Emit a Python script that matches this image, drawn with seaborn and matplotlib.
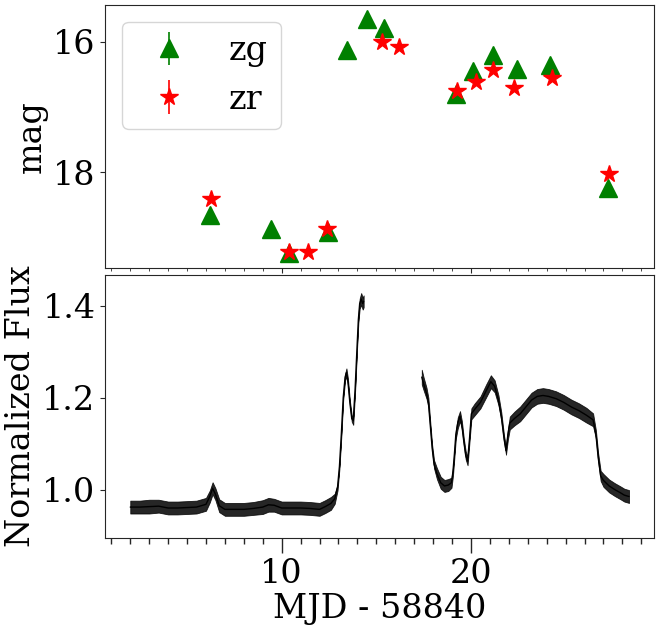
import numpy as np
import pandas as pd
import matplotlib
matplotlib.use("Agg")
import matplotlib.pyplot as plt
from matplotlib.ticker import MultipleLocator
import seaborn as sns

# ---------------- data ----------------
zg_t = [6.21, 9.45, 10.40, 12.46, 13.47, 14.49, 15.42, 19.19, 20.12, 21.14, 22.45, 24.19, 27.25]
zg_mag = [18.65, 18.86, 19.24, 18.91, 16.13, 15.64, 15.79, 16.79, 16.45, 16.20, 16.42, 16.35, 18.24]
zg_err = [0.05, 0.05, 0.06, 0.05, 0.03, 0.03, 0.03, 0.04, 0.03, 0.03, 0.03, 0.08, 0.05]

zr_t = [6.25, 10.40, 11.41, 12.41, 15.32, 16.21, 19.24, 20.25, 21.14, 22.29, 24.28, 27.31]
zr_mag = [18.41, 19.22, 19.22, 18.87, 16.00, 16.07, 16.75, 16.61, 16.43, 16.71, 16.55, 18.02]
zr_err = [0.05, 0.06, 0.06, 0.05, 0.03, 0.03, 0.04, 0.03, 0.03, 0.03, 0.03, 0.05]

# light curve, segment 1
lc1_t = [2.0, 2.5, 3.0, 3.5, 4.0, 4.5, 5.0, 5.5, 6.0, 6.2, 6.35, 6.5, 6.7, 7.0, 7.5, 8.0,
         8.5, 9.0, 9.3, 9.6, 10.0, 10.5, 11.0, 11.5, 12.0, 12.3, 12.6, 12.8, 12.95, 13.05,
         13.15, 13.25, 13.35, 13.42, 13.5, 13.6, 13.7, 13.78, 13.88, 13.98, 14.05, 14.12,
         14.2, 14.28, 14.33]
lc1_f = [0.962, 0.962, 0.963, 0.964, 0.960, 0.960, 0.961, 0.962, 0.968, 0.985, 1.003, 0.990,
         0.965, 0.957, 0.957, 0.957, 0.959, 0.962, 0.967, 0.966, 0.960, 0.960, 0.960, 0.959,
         0.957, 0.963, 0.970, 0.980, 1.005, 1.050, 1.120, 1.200, 1.245, 1.255, 1.235, 1.190,
         1.155, 1.150, 1.220, 1.310, 1.370, 1.405, 1.415, 1.405, 1.410]
lc1_s = [0.014, 0.014, 0.015, 0.014, 0.014, 0.014, 0.014, 0.014, 0.014, 0.013, 0.013, 0.013,
         0.014, 0.014, 0.014, 0.014, 0.014, 0.015, 0.015, 0.014, 0.014, 0.014, 0.014, 0.014,
         0.014, 0.014, 0.014, 0.011, 0.007, 0.005, 0.005, 0.005, 0.007, 0.009, 0.007, 0.005,
         0.007, 0.009, 0.005, 0.005, 0.007, 0.011, 0.013, 0.013, 0.013]

# light curve, segment 2
lc2_t = [17.40, 17.5, 17.65, 17.75, 17.85, 17.95, 18.05, 18.2, 18.4, 18.6, 18.8, 18.97,
         19.05, 19.12, 19.2, 19.3, 19.42, 19.52, 19.62, 19.72, 19.82, 19.92, 20.02, 20.2,
         20.5, 20.8, 21.05, 21.25, 21.45, 21.6, 21.75, 21.85, 21.95, 22.05, 22.3, 22.6,
         22.9, 23.2, 23.5, 23.8, 24.1, 24.5, 24.9, 25.3, 25.7, 26.1, 26.45, 26.6, 26.72,
         26.85, 27.0, 27.3, 27.6, 27.9, 28.1, 28.35]
lc2_f = [1.245, 1.230, 1.210, 1.190, 1.140, 1.090, 1.055, 1.035, 1.015, 1.008, 1.010, 1.015,
         1.040, 1.075, 1.120, 1.145, 1.160, 1.140, 1.105, 1.075, 1.062, 1.110, 1.165, 1.175,
         1.190, 1.215, 1.235, 1.225, 1.195, 1.160, 1.110, 1.085, 1.120, 1.145, 1.155, 1.165,
         1.180, 1.195, 1.203, 1.205, 1.203, 1.198, 1.190, 1.180, 1.172, 1.162, 1.152, 1.120,
         1.070, 1.030, 1.020, 1.008, 1.000, 0.993, 0.988, 0.985]
lc2_s = [0.016, 0.014, 0.012, 0.010, 0.007, 0.007, 0.009, 0.012, 0.013, 0.013, 0.013, 0.011,
         0.009, 0.007, 0.009, 0.012, 0.011, 0.009, 0.007, 0.009, 0.009, 0.007, 0.012, 0.013,
         0.013, 0.014, 0.014, 0.013, 0.011, 0.009, 0.007, 0.009, 0.011, 0.014, 0.015, 0.016,
         0.016, 0.016, 0.016, 0.016, 0.016, 0.016, 0.016, 0.016, 0.016, 0.016, 0.014, 0.009,
         0.009, 0.011, 0.014, 0.014, 0.014, 0.014, 0.014, 0.014]

# ---------------- style ----------------
sns.set_style("ticks")
plt.rcParams["font.family"] = ["DejaVu Serif"]
plt.rcParams["text.color"] = "black"
plt.rcParams["axes.labelcolor"] = "black"
plt.rcParams["axes.edgecolor"] = "0.15"
plt.rcParams["xtick.color"] = "0.15"
plt.rcParams["ytick.color"] = "0.15"
plt.rcParams["xtick.labelcolor"] = "black"
plt.rcParams["ytick.labelcolor"] = "black"
plt.rcParams["xtick.direction"] = "out"
plt.rcParams["ytick.direction"] = "out"
plt.rcParams["xtick.major.size"] = 3.5
plt.rcParams["ytick.major.size"] = 3.5
plt.rcParams["xtick.minor.size"] = 2.0
FS = 24

fig = plt.figure(figsize=(6.65, 6.25), dpi=100)
ax1 = fig.add_axes([0.1583, 0.5707, 0.8252, 0.4213])
ax2 = fig.add_axes([0.1583, 0.1387, 0.8252, 0.4218], sharex=ax1)

# top panel: ZTF photometry
ax1.errorbar(zg_t, zg_mag, yerr=zg_err, fmt="^", color="green", ms=12.5,
             elinewidth=1.2, label="zg", zorder=3)
ax1.errorbar(zr_t, zr_mag, yerr=zr_err, fmt="*", color="red", ms=13,
             elinewidth=1.2, label="zr", zorder=4)
ax1.set_ylim(19.47, 15.433)
ax1.yaxis.set_major_locator(MultipleLocator(2))
ax1.set_ylabel("mag", fontsize=FS, color="black")
ax1.tick_params(axis="y", labelsize=FS, labelcolor="black")
ax1.tick_params(axis="x", which="both", labelbottom=False)
leg = ax1.legend(loc="upper left", fontsize=FS, frameon=True)
for txt in leg.get_texts():
    txt.set_color("black")

# bottom panel: light curve
df = pd.concat([
    pd.DataFrame({"t": lc1_t, "f": lc1_f, "s": lc1_s, "seg": 1}),
    pd.DataFrame({"t": lc2_t, "f": lc2_f, "s": lc2_s, "seg": 2}),
], ignore_index=True)
for seg, d in df.groupby("seg"):
    ax2.fill_between(d["t"], d["f"] - d["s"], d["f"] + d["s"], color="black",
                     lw=0.6, alpha=0.85)
sns.lineplot(data=df, x="t", y="f", units="seg", estimator=None, sort=False,
             color="black", lw=1.0, ax=ax2, legend=False)
ax2.set_ylim(0.894, 1.468)
ax2.yaxis.set_major_locator(MultipleLocator(0.2))
ax2.set_ylabel("Normalized Flux", fontsize=FS, color="black")
ax2.set_xlabel("MJD - 58840", fontsize=FS, labelpad=2, color="black")
ax2.tick_params(axis="y", labelsize=FS, labelcolor="black")
ax2.tick_params(axis="x", which="major", labelsize=FS, length=11, width=1.0,
                labelcolor="black")
ax2.tick_params(axis="x", which="minor", length=4.5, width=1.0)

ax1.set_xlim(0.68, 29.67)
ax1.xaxis.set_major_locator(MultipleLocator(10))
ax1.xaxis.set_minor_locator(MultipleLocator(1))

fig.savefig("out.png", dpi=100)
